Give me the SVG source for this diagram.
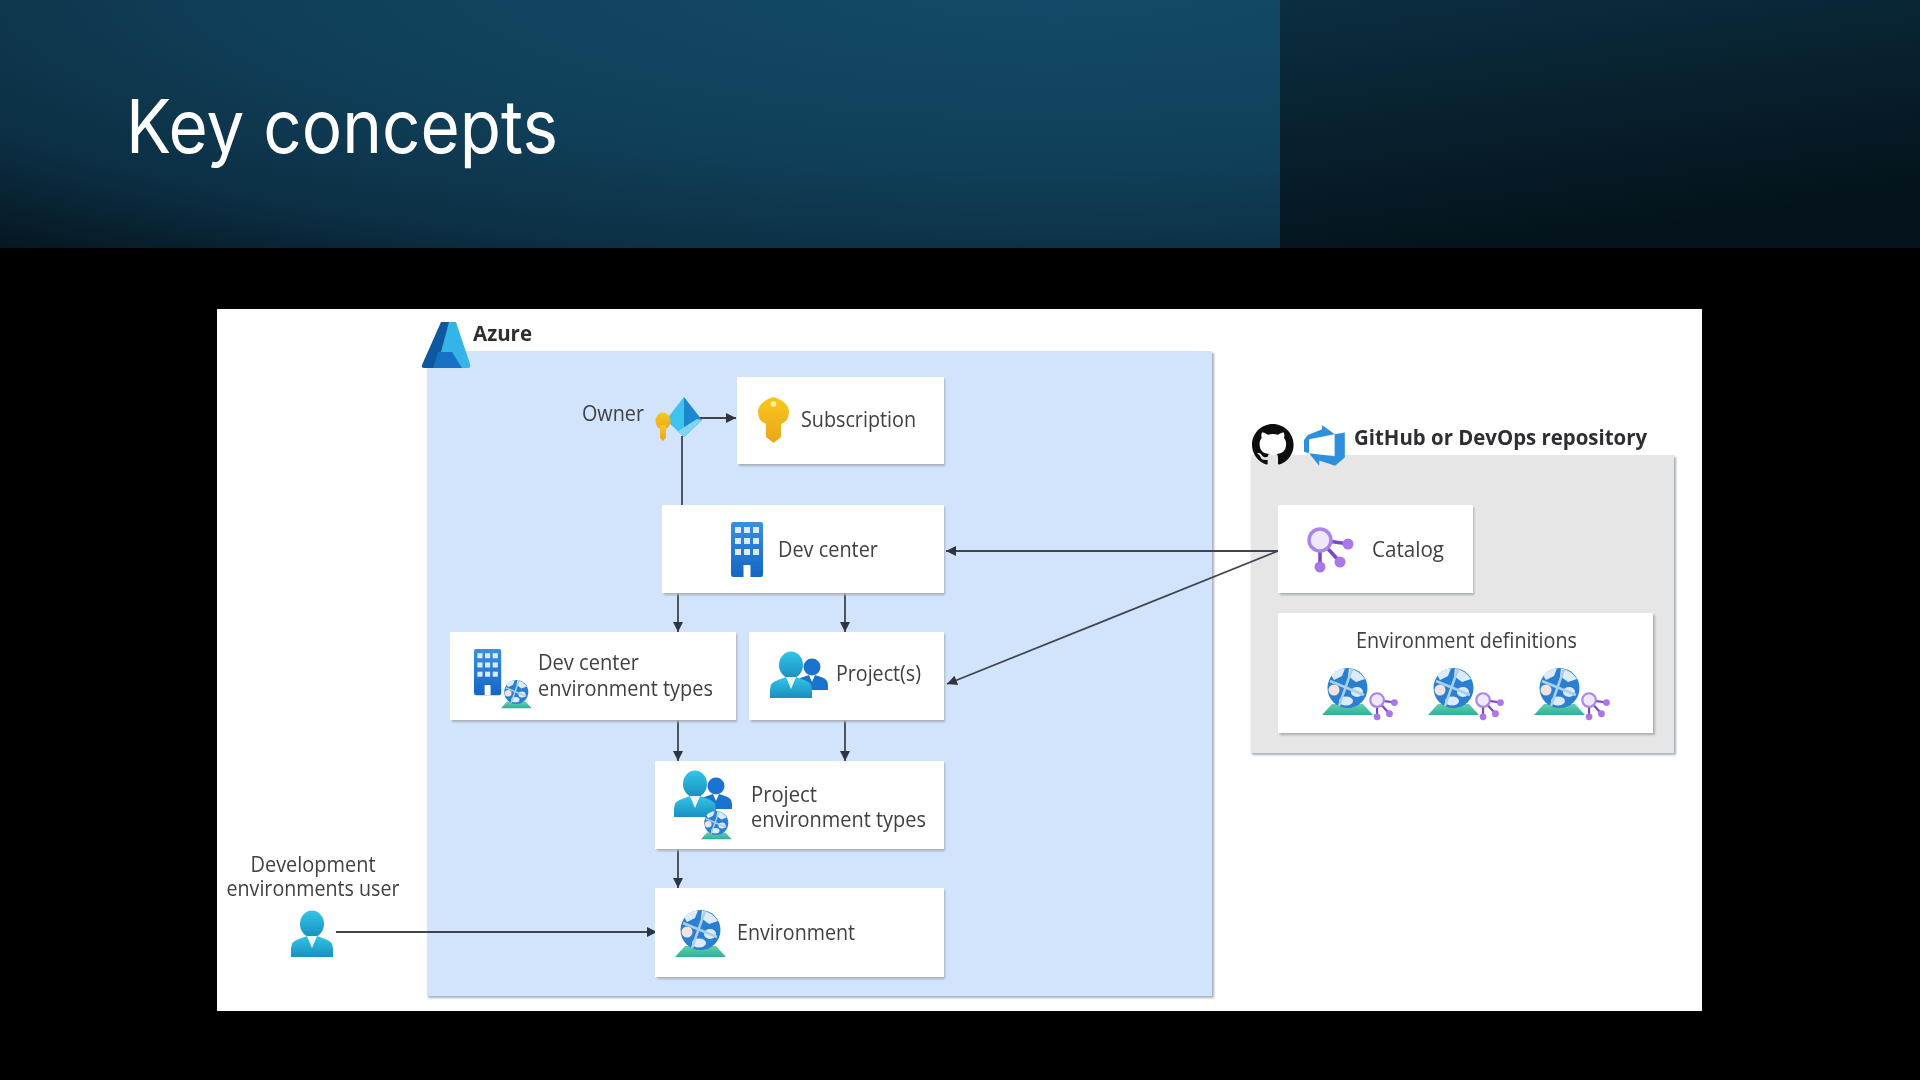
<svg xmlns="http://www.w3.org/2000/svg" xmlns:xlink="http://www.w3.org/1999/xlink" width="1920" height="1080" viewBox="0 0 1920 1080">
<style>
text{font-family:"Open Sans","Noto Sans","Liberation Sans",sans-serif;font-size:21px;fill:#3f3f43}
.b{font-weight:700;fill:#2f2f33}
.card{fill:#fff}
.sh{fill:#a7afb8;filter:url(#soft)}
.ln{fill:none;stroke:#3d4450;stroke-width:1.800}
.ar{marker-end:url(#tip)}
</style>
<defs>
<filter id="soft" x="-5%" y="-5%" width="110%" height="110%"><feGaussianBlur stdDeviation="0.800"/></filter>
<filter id="lowres" filterUnits="userSpaceOnUse" x="200" y="300" width="1520" height="720"><feGaussianBlur stdDeviation="0.550"/></filter>
<radialGradient id="hdr" gradientUnits="userSpaceOnUse" cx="0" cy="0" r="1" gradientTransform="translate(1050 -20) scale(1625 375)">
<stop offset="0" stop-color="#134b6a"/><stop offset=".48" stop-color="#104059"/><stop offset=".76" stop-color="#0c2f44"/><stop offset="1" stop-color="#03121a"/></radialGradient>
<linearGradient id="hdr2" x1="0" y1="0" x2=".35" y2="1"><stop offset="0" stop-color="#0b2e41"/><stop offset=".6" stop-color="#071e2b"/><stop offset="1" stop-color="#04131b"/></linearGradient>
<linearGradient id="cy" x1="0" y1="0" x2="0" y2="1"><stop offset="0" stop-color="#32c5e6"/><stop offset="1" stop-color="#1a8fc0"/></linearGradient>
<linearGradient id="bl" x1="0" y1="0" x2="0" y2="1"><stop offset="0" stop-color="#3a8fe0"/><stop offset="1" stop-color="#1566c4"/></linearGradient>
<linearGradient id="gold" x1="0" y1="0" x2="0" y2="1"><stop offset="0" stop-color="#f8c81e"/><stop offset="1" stop-color="#eba51b"/></linearGradient>
<linearGradient id="teal" x1="0" y1="0" x2="0" y2="1"><stop offset="0" stop-color="#63d0a8"/><stop offset="1" stop-color="#2fae9c"/></linearGradient>
<marker id="tip" markerUnits="userSpaceOnUse" markerWidth="12" markerHeight="12" refX="11" refY="6" orient="auto"><path d="M1 1 L11 6 L1 11 Z" fill="#2f3642"/></marker>

<g id="building"><rect width="32" height="55" rx="2.500" fill="url(#bl)"/>
<g fill="#dcebfa"><rect x="4" y="5" width="6" height="6"/><rect x="13" y="5" width="6" height="6"/><rect x="22" y="5" width="6" height="6"/><rect x="4" y="16" width="6" height="6"/><rect x="13" y="16" width="6" height="6"/><rect x="22" y="16" width="6" height="6"/><rect x="4" y="27" width="6" height="6"/><rect x="13" y="27" width="6" height="6"/><rect x="22" y="27" width="6" height="6"/><rect x="12.500" y="43" width="7" height="12" fill="#fff"/></g></g>

<g id="globe"><path d="M0 47 L10 36 H41 L51 47 Z" fill="url(#teal)"/>
<circle cx="25.500" cy="20" r="20" fill="#2a7fd0"/>
<g fill="#dcebf9"><path d="M9 7 Q15 1 23 0.500 L20 8 L12 12 Z"/><path d="M27 0.500 Q37 2 43 11 L34 14 L26 8 Z"/><ellipse cx="12" cy="22" rx="5.500" ry="5.500" fill="#f3e3dc"/><ellipse cx="35" cy="24" rx="6" ry="5"/><ellipse cx="24" cy="33" rx="7" ry="4.500"/></g>
<path d="M8 13 L42 27 M30 1 L17 38" stroke="#a9cff0" stroke-width="2.500" fill="none"/></g>

<g id="catalog"><path d="M13 13 L42 17 M13 13 L33 35 M13 13 L13 41" stroke="#7a46c8" stroke-width="3.500" fill="none"/>
<circle cx="13" cy="13" r="11" fill="#efe8fb" stroke="#ab84ec" stroke-width="3.500"/>
<g fill="#a977ea"><circle cx="41" cy="17" r="5.500"/><circle cx="33" cy="35" r="5.500"/><circle cx="13" cy="40" r="5.500"/></g></g>

<g id="person"><ellipse cx="21" cy="13" rx="12" ry="13.500" fill="url(#cy)"/><path d="M0 46 V38 Q0 30 8 28 L16 25 L21 36 L26 25 L34 28 Q42 30 42 38 V46 Z" fill="url(#cy)"/><path d="M16 25 L21 37 L26 25 Z" fill="#e6f6fb"/></g>
<g id="person2"><circle cx="18" cy="8" r="8.500" fill="#1c72cf"/><path d="M2 31 V26 Q2 20 9 18 L15 16 L18 23 L21 16 L27 18 Q34 20 34 26 V31 Z" fill="#1c72cf"/></g>
</defs>

<rect id="bg" width="1920" height="1080" fill="#000"/>
<rect width="1280" height="248" fill="url(#hdr)"/>
<rect x="1280" width="640" height="248" fill="url(#hdr2)"/>
<text x="126" y="152.500" textLength="432" lengthAdjust="spacingAndGlyphs" style="font-family:Inter,'Liberation Sans',sans-serif;font-size:74px;fill:#fff">Key concepts</text>

<rect x="217" y="309" width="1485" height="702" fill="#fff"/>

<g filter="url(#lowres)">
<g id="azure-boundary"><rect class="sh" x="428" y="353" width="786" height="645"/><rect x="428" y="351" width="784" height="645" fill="#d2e4fb"/>
<path d="M441 322 H456 L437 366 Q436 368 434 368 H424 Q421 368 422 365 Z" fill="#10589f"/><path d="M456 322 L470 364 Q471 368 468 368 H448 L441 352 L449 322 Z" fill="#35b4e8"/><path d="M438 352 H452 L462 368 H433 Z" fill="#1470c4"/>
<text class="b" x="473" y="340.500" textLength="59" lengthAdjust="spacingAndGlyphs">Azure</text></g>

<g id="repo-boundary"><rect class="sh" x="1252" y="457" width="424" height="298"/><rect x="1252" y="455" width="422" height="298" fill="#e6e6e6"/>
<path transform="translate(1252 424) scale(2.600)" d="M8 0C3.580 0 0 3.580 0 8c0 3.540 2.290 6.530 5.470 7.590.4.070.55-.17.55-.38 0-.19-.01-.82-.01-1.490-2.010.37-2.530-.49-2.690-.94-.09-.23-.48-.94-.82-1.130-.28-.15-.68-.52-.01-.53.63-.01 1.080.58 1.230.82.72 1.210 1.870.87 2.330.66.07-.52.28-.87.51-1.070-1.780-.2-3.640-.89-3.640-3.950 0-.87.31-1.590.82-2.150-.08-.2-.36-1.020.08-2.120 0 0 .67-.21 2.200.82.64-.18 1.320-.27 2-.27.68 0 1.360.09 2 .27 1.530-1.040 2.200-.82 2.200-.82.44 1.100.16 1.920.08 2.120.51.56.82 1.270.82 2.150 0 3.070-1.870 3.750-3.650 3.950.29.25.54.73.54 1.480 0 1.070-.01 1.930-.01 2.200 0 .21.15.46.55.38A8.013 8.013 0 0016 8c0-4.420-3.580-8-8-8z" fill="#0c0c0e"/>
<path transform="translate(1304 425) scale(1.700)" d="M0 8.877L2.247 5.910l8.405-3.416V.022l7.370 5.393L2.966 8.338v8.225L0 15.707zm24-4.450v14.651l-5.753 4.900-9.303-3.057v3.056l-5.978-7.416 15.057 1.798V5.415z" fill="#2f8fdc"/>
<text class="b" x="1354" y="445" textLength="293" lengthAdjust="spacingAndGlyphs">GitHub or DevOps repository</text></g>

<g id="connectors">
<path class="ln ar" d="M697 418 H736"/>
<path class="ln" d="M682 436 V505"/>
<path class="ln ar" d="M678 593 V632"/>
<path class="ln ar" d="M845 593 V632"/>
<path class="ln ar" d="M678 720 V761"/>
<path class="ln ar" d="M845 720 V761"/>
<path class="ln ar" d="M678 849 V888"/>
<path class="ln ar" d="M336 932 H657"/>
<path class="ln ar" d="M1278 551 H946"/>
<path class="ln ar" d="M1278 551 L947 684"/>
</g>

<g id="owner"><text x="582" y="420.500" textLength="62" lengthAdjust="spacingAndGlyphs">Owner</text>
<path d="M684 397 L666 420 L684 437 Z" fill="#3ec3ec"/><path d="M684 397 L702 420 L684 437 Z" fill="#1e86cf"/><path d="M702 420 L684 437 L678 431 L697 419Z" fill="#7fd4f2"/>
<g fill="url(#gold)"><ellipse cx="663" cy="421" rx="7.500" ry="8.500"/><path d="M660 425 H666 V438 L663 441 L660 438 Z"/></g></g>

<g id="subscription"><rect class="sh" x="739" y="379" width="206" height="87"/><rect class="card" x="737" y="377" width="207" height="87"/>
<path d="M773.500 397 Q789 402 789 412 Q789 421 781 424 V437 L773.500 443 L766 437 V424 Q758 421 758 412 Q758 402 773.500 397 Z" fill="url(#gold)"/><circle cx="773.500" cy="404" r="2.800" fill="#fdeeb0"/>
<text x="801" y="426.500" textLength="115" lengthAdjust="spacingAndGlyphs">Subscription</text></g>

<g id="dev-center"><rect class="sh" x="664" y="507" width="281" height="88"/><rect class="card" x="662" y="505" width="282" height="88"/>
<use href="#building" x="731" y="522"/>
<text x="778" y="557" textLength="100" lengthAdjust="spacingAndGlyphs">Dev center</text></g>

<g id="dev-center-env-types"><rect class="sh" x="452" y="634" width="285" height="88"/><rect class="card" x="450" y="632" width="286" height="88"/>
<use href="#building" transform="translate(474 649) scale(.85 .84)"/>
<use href="#globe" transform="translate(501 680) scale(.6)"/>
<text x="538" y="670" textLength="101" lengthAdjust="spacingAndGlyphs">Dev center</text>
<text x="538" y="696" textLength="175" lengthAdjust="spacingAndGlyphs">environment types</text></g>

<g id="projects"><rect class="sh" x="751" y="634" width="194" height="88"/><rect class="card" x="749" y="632" width="195" height="88"/>
<use href="#person2" x="794" y="659"/><use href="#person" x="770" y="652"/>
<text x="836" y="681" textLength="85" lengthAdjust="spacingAndGlyphs">Project(s)</text></g>

<g id="project-env-types"><rect class="sh" x="657" y="763" width="288" height="88"/><rect class="card" x="655" y="761" width="289" height="88"/>
<use href="#person2" x="698" y="778"/><use href="#person" x="674" y="771"/>
<use href="#globe" transform="translate(701 811) scale(.6)"/>
<text x="751" y="802" textLength="66" lengthAdjust="spacingAndGlyphs">Project</text>
<text x="751" y="827" textLength="175" lengthAdjust="spacingAndGlyphs">environment types</text></g>

<g id="environment"><rect class="sh" x="657" y="890" width="288" height="89"/><rect class="card" x="655" y="888" width="289" height="89"/>
<use href="#globe" x="675" y="910"/>
<text x="737" y="940" textLength="118" lengthAdjust="spacingAndGlyphs">Environment</text></g>

<g id="user"><use href="#person" x="291" y="911"/>
<text x="313" y="871.500" text-anchor="middle" textLength="125" lengthAdjust="spacingAndGlyphs">Development</text>
<text x="313" y="896" text-anchor="middle" textLength="173" lengthAdjust="spacingAndGlyphs">environments user</text></g>

<g id="catalog-node"><rect class="sh" x="1280" y="507" width="194" height="88"/><rect class="card" x="1278" y="505" width="195" height="88"/>
<use href="#catalog" x="1307" y="527"/>
<text x="1372" y="556.500" textLength="72" lengthAdjust="spacingAndGlyphs">Catalog</text></g>

<g id="environment-definitions"><rect class="sh" x="1280" y="615" width="375" height="120"/><rect class="card" x="1278" y="613" width="375" height="120"/>
<text x="1356" y="648" textLength="221" lengthAdjust="spacingAndGlyphs">Environment definitions</text>
<use href="#globe" x="1322" y="668"/><use href="#catalog" transform="translate(1369 692) scale(.62)"/>
<use href="#globe" x="1428" y="668"/><use href="#catalog" transform="translate(1475 692) scale(.62)"/>
<use href="#globe" x="1534" y="668"/><use href="#catalog" transform="translate(1581 692) scale(.62)"/></g>
</g>
</svg>
